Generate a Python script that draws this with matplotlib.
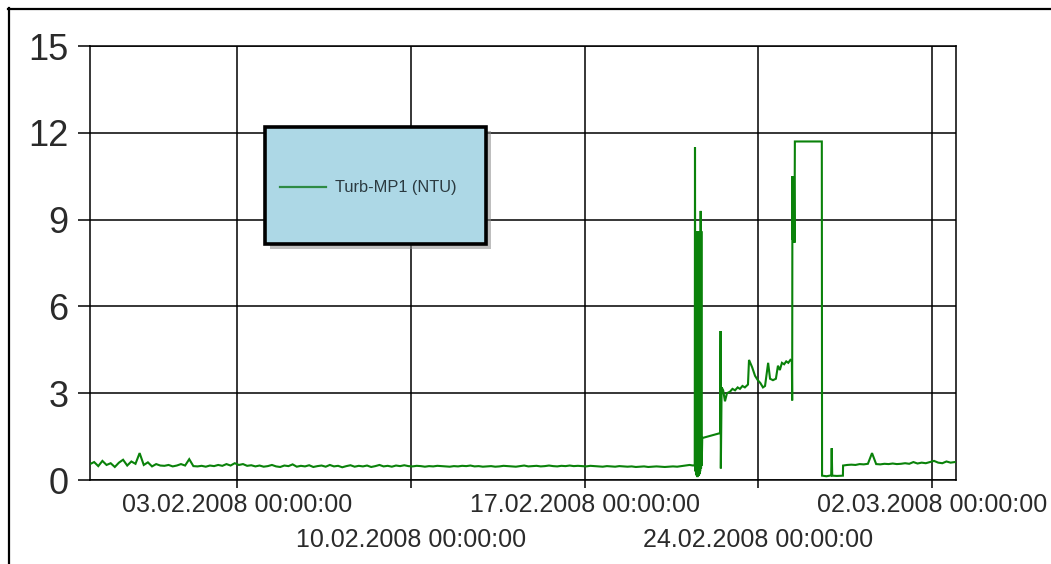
import numpy as np
import pandas as pd
import matplotlib
matplotlib.use("Agg")
import matplotlib.pyplot as plt
import matplotlib.dates as mdates
from matplotlib.patches import Rectangle
from matplotlib.lines import Line2D
from matplotlib.ticker import FixedLocator, FixedFormatter

# ---- data: turbidity at measuring point 1 (NTU) ----
series_label = "Turb-MP1 (NTU)"

# quiet period before the event, 4-hourly readings from 28.01.2008 01:30
early_start = "2008-01-28 01:30"
early_values = [
    0.55, 0.62, 0.48, 0.66, 0.52, 0.58, 0.45, 0.60, 0.70, 0.50, 0.64, 0.56,
    0.93, 0.52, 0.61, 0.47, 0.55, 0.50, 0.49, 0.52, 0.47, 0.50, 0.55, 0.50,
    0.72, 0.48, 0.47, 0.49, 0.46, 0.50, 0.48, 0.52, 0.49, 0.55, 0.50, 0.58,
    0.52, 0.55, 0.49, 0.51, 0.47, 0.50, 0.46, 0.48, 0.52, 0.47, 0.45, 0.50,
    0.48, 0.54, 0.46, 0.49, 0.47, 0.51, 0.45, 0.48, 0.50, 0.46, 0.52, 0.47,
    0.49, 0.44, 0.48, 0.51, 0.46, 0.49, 0.47, 0.50, 0.45, 0.48, 0.52, 0.47,
    0.49, 0.46, 0.50, 0.48, 0.51,
    0.48, 0.47, 0.49, 0.48, 0.46, 0.48, 0.47, 0.49, 0.48, 0.47, 0.46, 0.48,
    0.47, 0.49, 0.48, 0.50, 0.47, 0.48, 0.46, 0.47, 0.48, 0.46, 0.47, 0.49,
    0.48, 0.47, 0.46, 0.48, 0.50, 0.47, 0.48, 0.49, 0.47, 0.48, 0.50, 0.48,
    0.47, 0.49, 0.48, 0.50, 0.48, 0.49,
    0.48, 0.47, 0.49, 0.48, 0.47, 0.46, 0.48, 0.47, 0.46, 0.48, 0.47, 0.46,
    0.47, 0.45, 0.46, 0.47, 0.45, 0.46, 0.47, 0.46, 0.45, 0.46, 0.47, 0.46,
    0.48, 0.50, 0.52,
]

# event period, irregular readings
event_times = [
    "2008-02-21 09:00", "2008-02-21 10:30", "2008-02-21 10:45", "2008-02-21 11:05",
    "2008-02-21 11:25", "2008-02-21 11:45", "2008-02-21 12:05", "2008-02-21 12:25",
    "2008-02-21 12:45", "2008-02-21 13:05", "2008-02-21 13:25", "2008-02-21 13:45",
    "2008-02-21 14:05", "2008-02-21 14:25", "2008-02-21 14:45", "2008-02-21 15:05",
    "2008-02-21 15:25", "2008-02-21 15:45", "2008-02-21 16:15", "2008-02-21 16:35",
    "2008-02-21 16:55", "2008-02-21 17:15", "2008-02-21 17:45",
    "2008-02-22 11:00", "2008-02-22 11:30", "2008-02-22 11:45", "2008-02-22 12:30",
    "2008-02-22 14:00", "2008-02-22 15:45", "2008-02-22 17:40", "2008-02-22 20:30",
    "2008-02-22 23:00", "2008-02-23 01:30", "2008-02-23 04:00", "2008-02-23 06:15",
    "2008-02-23 08:40", "2008-02-23 11:00", "2008-02-23 14:00", "2008-02-23 15:00",
    "2008-02-23 18:00", "2008-02-23 20:50", "2008-02-23 23:30", "2008-02-24 02:00",
    "2008-02-24 04:30", "2008-02-24 06:30", "2008-02-24 09:30", "2008-02-24 11:20",
    "2008-02-24 14:10", "2008-02-24 17:00", "2008-02-24 19:00", "2008-02-24 20:50",
    "2008-02-24 22:50", "2008-02-25 01:00", "2008-02-25 03:00", "2008-02-25 05:00",
    "2008-02-25 07:00", "2008-02-25 08:28", "2008-02-25 08:45",
    "2008-02-25 09:00", "2008-02-25 09:15", "2008-02-25 09:30", "2008-02-25 09:45",
    "2008-02-25 10:00", "2008-02-25 10:15", "2008-02-25 10:30", "2008-02-25 11:00",
    "2008-02-25 11:22", "2008-02-26 13:26", "2008-02-26 13:40", "2008-02-26 18:00",
    "2008-02-26 22:30", "2008-02-26 23:00", "2008-02-26 23:30", "2008-02-27 04:00",
    "2008-02-27 09:50",
]
event_values = [
    0.50, 0.52, 11.5, 0.30,
    8.6, 0.20, 8.4, 0.15,
    8.6, 0.10, 8.5, 0.20,
    8.6, 0.15, 8.5, 0.20,
    8.6, 0.30, 9.3, 0.40,
    8.6, 0.50, 1.45,
    1.62, 5.15, 0.40, 3.20,
    3.10, 2.72, 3.00, 3.05,
    3.15, 3.10, 3.20, 3.15,
    3.25, 3.20, 3.30, 4.15,
    3.90, 3.60, 3.45, 3.35,
    3.20, 3.25, 4.05, 3.50,
    3.45, 3.50, 3.95, 3.80,
    4.05, 4.00, 4.10, 4.05,
    4.15, 4.10, 2.75,
    10.5, 8.3, 10.3, 8.2,
    10.4, 8.4, 10.5, 8.2,
    11.7, 11.7, 0.15, 0.13,
    0.16, 1.10, 0.15, 0.14,
    0.15,
]

# back to normal, 4-hourly readings from 27.02.2008 10:00
late_start = "2008-02-27 10:00"
late_values = [
    0.50, 0.52, 0.53, 0.52, 0.55, 0.54, 0.56, 0.93, 0.55, 0.54, 0.56, 0.55,
    0.57, 0.55, 0.56, 0.58, 0.56, 0.62, 0.57, 0.60, 0.58, 0.62, 0.66, 0.60,
    0.58, 0.64, 0.60, 0.62,
]

y_ticks = [0, 3, 6, 9, 12, 15]
x_major_dates = ["2008-02-03", "2008-02-17", "2008-03-02"]
x_minor_dates = ["2008-02-10", "2008-02-24"]
x_range = ["2008-01-28 01:30", "2008-03-02 23:14"]

# ---- assemble the time series ----
t_early = pd.date_range(early_start, periods=len(early_values), freq="4h")
t_event = pd.to_datetime(event_times)
t_late = pd.date_range(late_start, periods=len(late_values), freq="4h")
times = np.concatenate([t_early.values, t_event.values, t_late.values])
values = np.array(early_values + event_values + late_values)

# ---- figure ----
W, H = 1051, 564
fig = plt.figure(figsize=(W / 100, H / 100), dpi=100)
fig.patch.set_facecolor("white")

def fx(px):
    return px / W

def fy(py):
    return 1 - py / H

ax = fig.add_axes([fx(90), fy(480), fx(956) - fx(90), fy(46) - fy(480)])
line, = ax.plot(times, values, color="#0a820a", lw=1.5, label=series_label,
                solid_joinstyle="miter", zorder=3)

ax.set_ylim(0, 15)
ax.set_xlim(pd.to_datetime(x_range[0]), pd.to_datetime(x_range[1]))

font = "Liberation Sans"
ax.set_yticks(y_ticks)
ax.set_yticklabels([str(v) for v in y_ticks], fontsize=26, family=font,
                   color="#2a2a2a")

maj = [mdates.date2num(pd.to_datetime(d)) for d in x_major_dates]
mnr = [mdates.date2num(pd.to_datetime(d)) for d in x_minor_dates]
ax.xaxis.set_major_locator(FixedLocator(maj))
ax.xaxis.set_minor_locator(FixedLocator(mnr))
fmt = lambda ds: [pd.to_datetime(d).strftime("%d.%m.%Y %H:%M:%S") for d in ds]
ax.xaxis.set_major_formatter(FixedFormatter(fmt(x_major_dates)))
ax.xaxis.set_minor_formatter(FixedFormatter(fmt(x_minor_dates)))

ax.tick_params(axis="y", length=8.6, width=1.1, pad=7, color="black")
ax.tick_params(axis="x", which="major", length=5.8, width=1.1, pad=3.5,
               labelsize=18, labelcolor="#2a2a2a")
ax.tick_params(axis="x", which="minor", length=5.8, width=1.1, pad=29,
               labelsize=18, labelcolor="#2a2a2a")
for lab in ax.get_xticklabels(which="both"):
    lab.set_family(font)

ax.grid(True, which="both", color="black", lw=1.1)
for s in ax.spines.values():
    s.set_color("black")
    s.set_linewidth(1.1)

# ---- legend box with drop shadow ----
bx0, by0, bx1, by1 = 264.5, 126.5, 485.5, 243.5
shadow = Rectangle((fx(bx0 + 5), fy(by1 + 5)), fx(bx1 - bx0), fy(by0) - fy(by1),
                   transform=fig.transFigure, facecolor="#8a8a8a", alpha=0.55,
                   edgecolor="none", clip_on=False, zorder=8)
box = Rectangle((fx(bx0), fy(by1)), fx(bx1 - bx0), fy(by0) - fy(by1),
                transform=fig.transFigure, facecolor="#add8e6",
                edgecolor="black", lw=2.6, clip_on=False, zorder=9)
ax.add_patch(shadow)
ax.add_patch(box)

leg = ax.legend(handles=[line], loc="center left",
                bbox_to_anchor=(fx(280), fy(188)), bbox_transform=fig.transFigure,
                frameon=False, borderpad=0, borderaxespad=0,
                handlelength=2.8, handletextpad=0.55,
                prop={"family": font, "size": 11.8})
leg.set_zorder(10)
for t in leg.get_texts():
    t.set_color("#2b3a40")
for h in leg.get_lines():
    h.set_color("#2e8b45")
    h.set_linewidth(1.6)

# ---- outer frame (top and left edges) ----
fig.add_artist(Line2D([fx(8), 1], [fy(9), fy(9)], transform=fig.transFigure,
                      color="black", lw=1.6))
fig.add_artist(Line2D([fx(9), fx(9)], [0, fy(8)], transform=fig.transFigure,
                      color="black", lw=1.6))

fig.savefig("out.png", dpi=100)
